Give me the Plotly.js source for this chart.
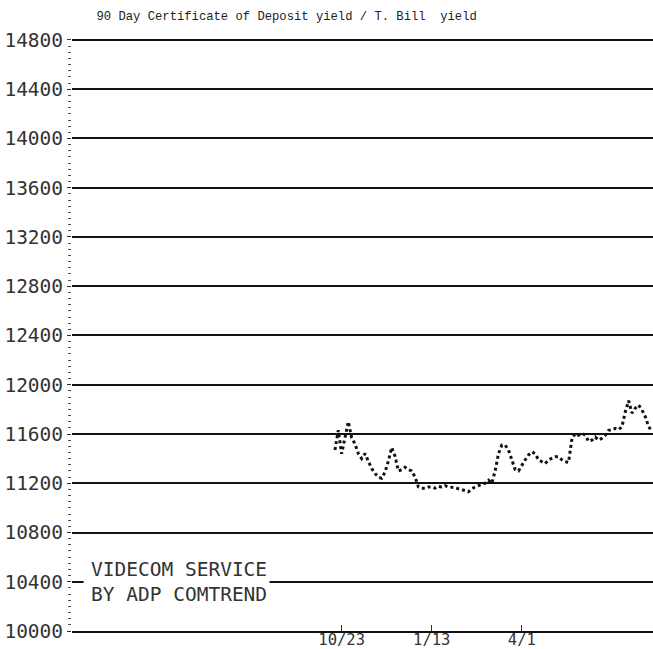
<!DOCTYPE html>
<html>
<head>
<meta charset="utf-8">
<script src="https://cdn.plot.ly/plotly-3.0.1.min.js"></script>
<style>html,body{margin:0;padding:0;background:#fff;}</style>
</head>
<body>
<div id="chart" style="width:653px;height:649px;"></div>
<script>
// Observation number (one reading every ~3 days)
const obs = Array.from({length: 96}, (_, i) => i);
// CD yield / T-Bill yield ratio (x10000)
const ratio = [
  11470, 11630, 11440, 11560, 11700, 11570, 11520, 11440, 11400, 11440,
  11380, 11320, 11280, 11250, 11240, 11290, 11380, 11490, 11420, 11300,
  11310, 11330, 11310, 11300, 11250, 11170, 11160, 11160, 11170, 11170,
  11160, 11175, 11170, 11180, 11170, 11170, 11165, 11155, 11150, 11140,
  11130, 11155, 11170, 11180, 11185, 11200, 11225, 11200, 11300, 11440,
  11510, 11510, 11470, 11390, 11310, 11300, 11350, 11390, 11430, 11455,
  11440, 11390, 11375, 11360, 11390, 11400, 11415, 11415, 11390, 11375,
  11370, 11560, 11605, 11590, 11605, 11590, 11540, 11550, 11575, 11550,
  11565, 11590, 11630, 11635, 11645, 11635, 11660, 11780, 11870, 11770,
  11810, 11835, 11795, 11740, 11660, 11620
];
const xTickObs = [2, 29, 56];
const xTickLabels = ['10/23', '1/13', '4/1'];
const yTickVals = [10000, 10400, 10800, 11200, 11600, 12000, 12400, 12800, 13200, 13600, 14000, 14400, 14800];
const yTickLabels = ['10000', '10400', '10800', '11200', '11600', '12000', '12400', '12800', '13200', '13600', '14000', '14400', '14800'];
const yTop = 14800;
const titleText = '90 Day Certificate of Deposit yield / T. Bill\u00a0 yield';
const stampText = 'VIDECOM SERVICE<br>BY ADP COMTREND';

const trace = {
  x: obs, y: ratio, type: 'scatter', mode: 'lines',
  line: {color: '#111', width: 3, dash: 'dot'},
  hoverinfo: 'skip', cliponaxis: true
};

const layout = {
  width: 653, height: 649,
  margin: {l: 72, r: 0, t: 39, b: 18},
  paper_bgcolor: '#fff', plot_bgcolor: '#fff',
  showlegend: false,
  title: {text: titleText, font: {family: 'Liberation Mono', size: 12.2, color: '#222'},
          x: 0.439, xref: 'container', xanchor: 'center', y: 0.976, yref: 'container', yanchor: 'middle'},
  xaxis: {
    range: [-78.8, 95.3], showgrid: false, zeroline: false,
    showline: true, linecolor: '#111', linewidth: 2,
    tickvals: xTickObs, ticktext: xTickLabels,
    ticks: 'inside', ticklen: 6, tickwidth: 1, tickcolor: '#333',
    tickfont: {family: 'DejaVu Sans Mono', size: 15.5, color: '#333'}, ticklabelstandoff: -7
  },
  yaxis: {
    range: [10000, 14808], showgrid: true, gridcolor: '#111', gridwidth: 2,
    zeroline: false, showline: false,
    tickvals: yTickVals, ticktext: yTickLabels,
    ticks: 'outside', ticklen: 4, tickwidth: 1, tickcolor: '#333',
    minor: {dtick: 50, ticks: 'outside', ticklen: 3, tickwidth: 1, tickcolor: '#555', showgrid: false},
    tickfont: {family: 'DejaVu Sans Mono', size: 19.5, color: '#333'}, ticklabelstandoff: 0
  },
  shapes: [
    {type: 'line', xref: 'paper', yref: 'y', x0: 0, x1: 1, y0: yTop, y1: yTop,
     line: {color: '#111', width: 2}, layer: 'below'},
    {type: 'rect', xref: 'paper', yref: 'y', x0: 0.02, x1: 0.34, y0: 10370, y1: 10430,
     fillcolor: '#fff', line: {width: 0}, layer: 'above'}
  ],
  annotations: [{
    text: stampText, xref: 'paper', yref: 'y', x: 0.03, y: 10400,
    xanchor: 'left', yanchor: 'middle', align: 'left', showarrow: false,
    font: {family: 'DejaVu Sans Mono', size: 19.5, color: '#333'}
  }]
};

Plotly.newPlot('chart', [trace], layout, {displayModeBar: false, staticPlot: true});
</script>
</body>
</html>
